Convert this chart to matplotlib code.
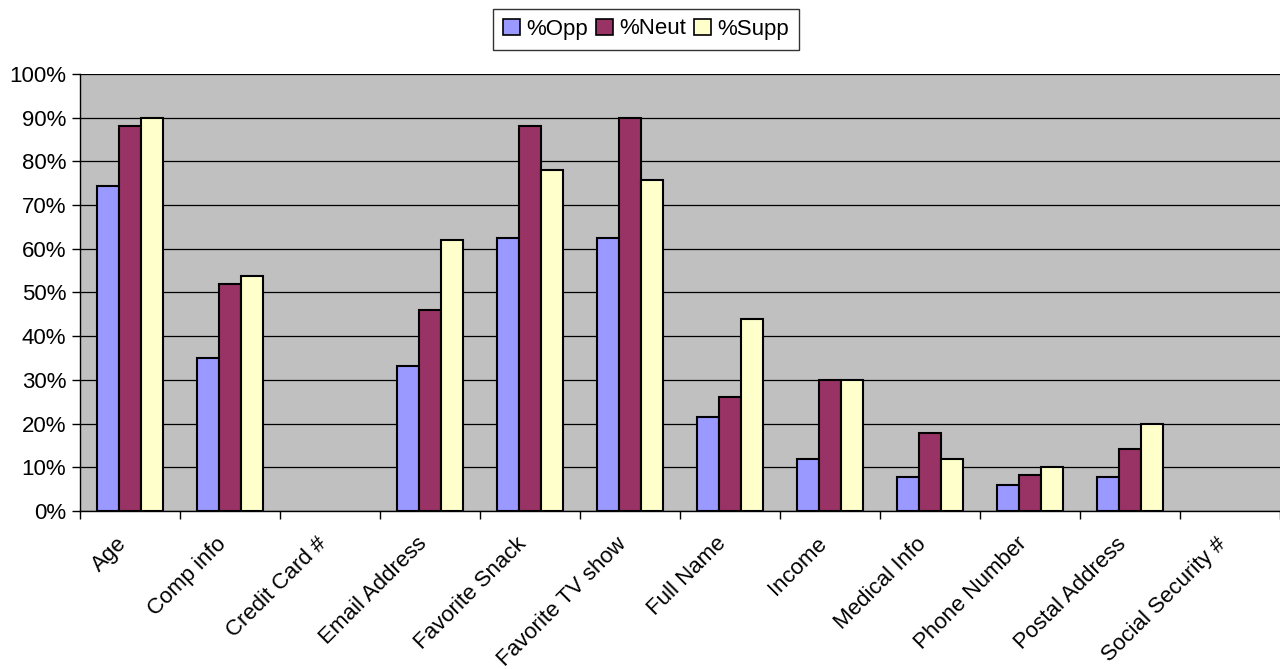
import numpy as np
import matplotlib
matplotlib.use("Agg")
import matplotlib.pyplot as plt
from matplotlib.ticker import PercentFormatter, FixedLocator
from matplotlib.transforms import ScaledTranslation

plt.rcParams['font.family'] = ['Liberation Sans', 'DejaVu Sans']

categories = ["Age", "Comp info", "Credit Card #", "Email Address", "Favorite Snack",
              "Favorite TV show", "Full Name", "Income", "Medical Info", "Phone Number",
              "Postal Address", "Social Security #"]
opp = [74.4, 35.0, 0, 33.2, 62.5, 62.5, 21.5, 11.9, 7.8, 5.9, 7.8, 0]
neut = [88.1, 52.0, 0, 46.0, 88.1, 90.0, 26.0, 30.0, 17.8, 8.2, 14.2, 0]
supp = [90.0, 53.8, 0, 62.0, 78.0, 75.7, 43.9, 30.0, 11.9, 10.0, 20.0, 0]
series = [("%Opp", opp, "#9999ff"), ("%Neut", neut, "#993366"), ("%Supp", supp, "#ffffcc")]

FS = 16

fig = plt.figure(figsize=(12.8, 6.69), dpi=100)
ax = fig.add_axes([80/1280, 1 - 511/669, 1200/1280, (511 - 74)/669])
ax.set_facecolor("#c0c0c0")

x = np.arange(len(categories))
w = 0.22
for i, (name, vals, col) in enumerate(series):
    lws = [1.5 if v > 0 else 0 for v in vals]
    ax.bar(x + (i - 1) * w, vals, width=w, color=col, edgecolor="black",
           linewidth=lws, label=name, zorder=3)

ax.set_xlim(-0.5, len(categories) - 0.5)
ax.set_ylim(0, 100)
ax.set_yticks(np.arange(0, 101, 10))
ax.yaxis.set_major_formatter(PercentFormatter(decimals=0))
ax.grid(axis="y", color="black", linewidth=0.9, zorder=1)

ax.set_xticks(x)
ax.set_xticklabels(categories, rotation=45, ha="right", rotation_mode="anchor", fontsize=FS)
ax.tick_params(axis="x", which="major", length=0, pad=16)
shift = ScaledTranslation(-14/100, 0, fig.dpi_scale_trans)
for lbl in ax.get_xticklabels():
    lbl.set_transform(lbl.get_transform() + shift)
ax.xaxis.set_minor_locator(FixedLocator(np.arange(-0.5, len(categories), 1.0)))
ax.tick_params(axis="x", which="minor", length=6, width=1, direction="out")
ax.tick_params(axis="y", length=6, width=1, direction="out", labelsize=FS, pad=4)

for s in ["top", "right"]:
    ax.spines[s].set_visible(False)
for s in ["left", "bottom"]:
    ax.spines[s].set_color("black")
    ax.spines[s].set_linewidth(1)

handles, labels = ax.get_legend_handles_labels()
leg = fig.legend(handles, labels, loc="center", bbox_to_anchor=(646/1280, 1 - 29/669), ncol=3,
                 fontsize=FS, frameon=True, fancybox=False, edgecolor="black",
                 handlelength=0.75, handleheight=0.75, handletextpad=0.3,
                 columnspacing=0.35, borderpad=0.45)
leg.get_frame().set_linewidth(1)
for h in leg.legend_handles:
    h.set_linewidth(1.2)

fig.savefig("out.png", dpi=100, facecolor="white")
